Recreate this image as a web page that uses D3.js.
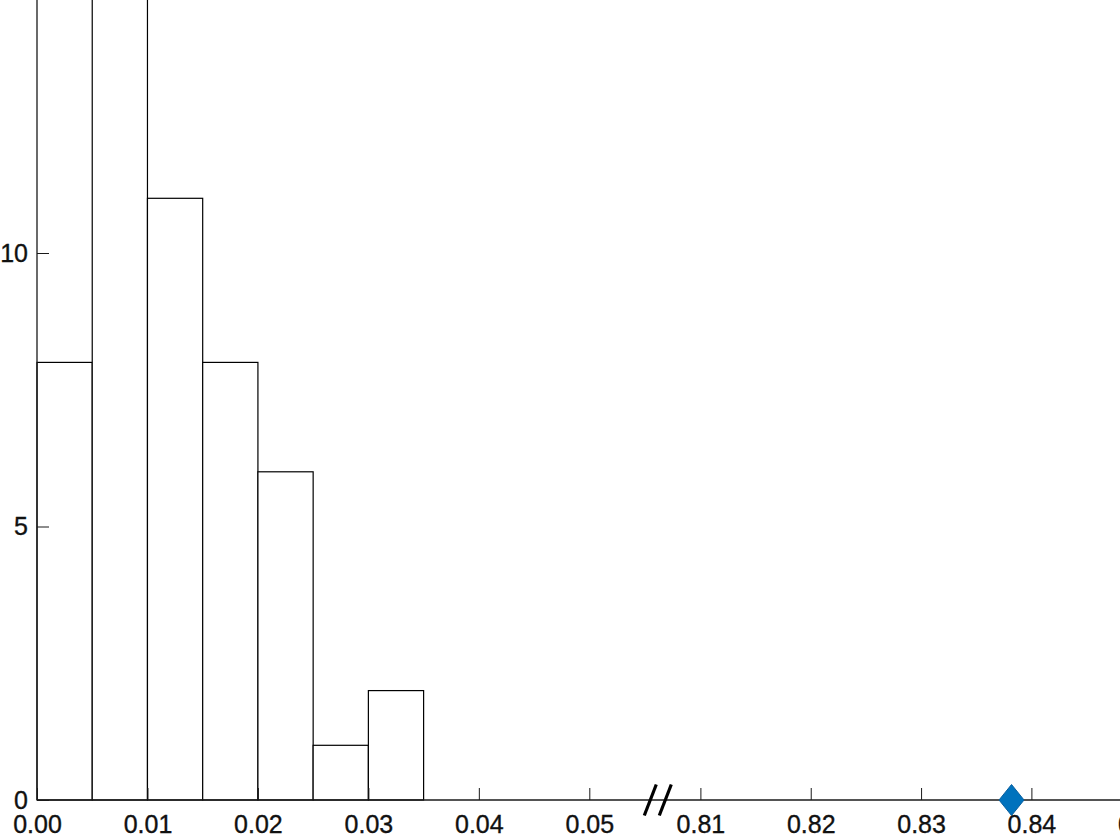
<!DOCTYPE html>
<html>
<head>
<meta charset="utf-8">
<script src="https://cdn.jsdelivr.net/npm/d3@7"></script>
<style>
  html, body { margin: 0; padding: 0; background: #fff; overflow: hidden; }
  svg { display: block; }
  text { font-family: "Liberation Sans", Arial, Helvetica, sans-serif; }
</style>
</head>
<body>
<svg id="chart" width="1120" height="840"></svg>
<script>
// ---- data ----
const binEdges = [0, 0.005, 0.01, 0.015, 0.02, 0.025, 0.03, 0.035];
const counts = [8, 16, 11, 8, 6, 1, 2];
const leftTicks = [0, 0.01, 0.02, 0.03, 0.04, 0.05];
const rightTicks = [0.81, 0.82, 0.83, 0.84, 0.85];
const yTicks = [0, 5, 10];
const markerValues = [0.8382];
const breakValue = 0.0562;

// ---- layout ----
const svg = d3.select("#chart");
const ink = "#1a1a1a";
const fontSize = 25;

const xL = d3.scaleLinear().domain([0, 0.05]).range([37, 589.3]);
const xR = d3.scaleLinear().domain([0.81, 0.84]).range([700.4, 1031.4]);
const y = d3.scaleLinear().domain([0, 10]).range([800, 253]);

// histogram bars
const bins = counts.map((c, i) => ({ x0: binEdges[i], x1: binEdges[i + 1], n: c }));
svg.append("g").selectAll("rect").data(bins).join("rect")
  .attr("x", d => xL(d.x0))
  .attr("y", d => y(d.n))
  .attr("width", d => xL(d.x1) - xL(d.x0))
  .attr("height", d => y(0) - y(d.n))
  .attr("fill", "#fff")
  .attr("stroke", "#000")
  .attr("stroke-width", 1.2);

// axes (ticks inward)
function styleAxis(g) {
  g.attr("font-size", fontSize).attr("font-family", "'Liberation Sans', Arial, Helvetica, sans-serif");
  g.select(".domain").remove();
  g.selectAll(".tick line").attr("stroke", ink).attr("stroke-width", 1);
  g.selectAll(".tick text").attr("fill", "#111").attr("font-size", fontSize)
    .attr("stroke", "#111").attr("stroke-width", 0.35);
}
svg.append("g").attr("transform", `translate(0,${y(0)})`)
  .call(d3.axisBottom(xL).tickValues(leftTicks).tickFormat(d3.format(".2f"))
    .tickSizeInner(-12).tickSizeOuter(0).tickPadding(15))
  .call(styleAxis);
svg.append("g").attr("transform", `translate(0,${y(0)})`)
  .call(d3.axisBottom(xR).tickValues(rightTicks).tickFormat(d3.format(".2f"))
    .tickSizeInner(-12).tickSizeOuter(0).tickPadding(15))
  .call(styleAxis);

svg.append("g").attr("transform", `translate(${xL(0)},0)`)
  .call(d3.axisLeft(y).tickValues(yTicks).tickFormat(d3.format("d"))
    .tickSizeInner(-12).tickSizeOuter(0).tickPadding(9))
  .call(styleAxis);

// axis lines
svg.append("line")
  .attr("x1", xL(0)).attr("x2", xR(0.86))
  .attr("y1", y(0)).attr("y2", y(0))
  .attr("stroke", ink).attr("stroke-width", 1.3);
svg.append("line")
  .attr("x1", xL(0)).attr("x2", xL(0))
  .attr("y1", y(0)).attr("y2", y(16))
  .attr("stroke", ink).attr("stroke-width", 1.3);

// axis break marks "//"
const bx = xL(breakValue);
[-7.5, 7.5].forEach(off => {
  svg.append("line")
    .attr("x1", bx + off - 6).attr("y1", y(0) + 15.5)
    .attr("x2", bx + off + 6).attr("y2", y(0) - 15.5)
    .attr("stroke", "#000").attr("stroke-width", 3.2);
});

// diamond marker
const diamond = "M0,-15.5L12.5,0L0,15.5L-12.5,0Z";
svg.append("g").selectAll("path").data(markerValues).join("path")
  .attr("transform", d => `translate(${xR(d)},${y(0)})`)
  .attr("d", diamond)
  .attr("fill", "#0072BD")
  .attr("stroke", "#0a5f9e")
  .attr("stroke-width", 1);
</script>
</body>
</html>
